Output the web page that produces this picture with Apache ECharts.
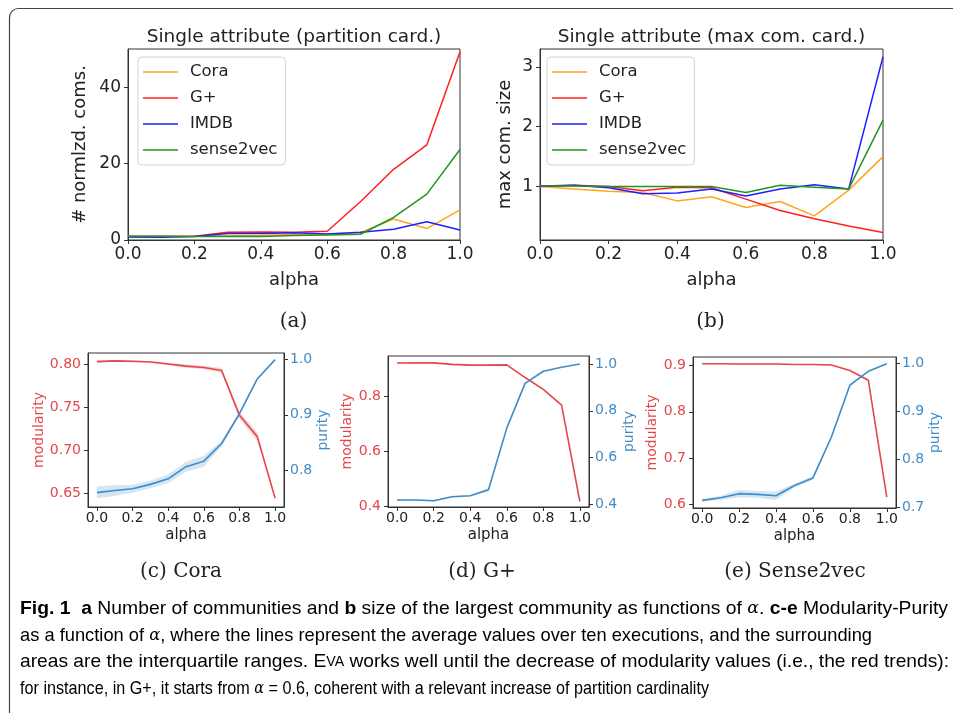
<!DOCTYPE html>
<html><head><meta charset="utf-8">
<script src="https://cdn.jsdelivr.net/npm/echarts@6/dist/echarts.min.js"></script>
<style>html,body{margin:0;padding:0;background:#fff}#c{width:953px;height:713px}</style>
</head><body><div id="c"></div>
<script>
// ---------- DATA ----------
const alpha = [0, 0.1, 0.2, 0.3, 0.4, 0.5, 0.6, 0.7, 0.8, 0.9, 1.0];
const xTicks = [0, 0.2, 0.4, 0.6, 0.8, 1.0];
const datasets = ['Cora', 'G+', 'IMDB', 'sense2vec'];

// (a) normalized number of communities
const partCora  = [1.0, 1.0, 1.0, 1.1, 1.2, 1.5, 1.6, 1.9, 5.5, 3.0, 7.9];
const partGplus = [0.9, 0.9, 1.0, 2.0, 2.1, 2.0, 2.3, 10.0, 18.5, 24.9, 49.3];
const partImdb  = [0.8, 0.7, 0.9, 1.7, 1.7, 1.9, 1.6, 2.0, 2.8, 4.8, 2.6];
const partSense = [1.0, 1.0, 0.9, 0.9, 0.9, 1.2, 1.3, 1.5, 5.9, 12.0, 23.7];
const aTicks = [0, 20, 40];

// (b) max community size
const maxCora  = [1.0, 0.96, 0.92, 0.90, 0.76, 0.83, 0.65, 0.75, 0.51, 0.94, 1.50];
const maxGplus = [1.0, 1.02, 1.0, 0.93, 0.99, 0.98, 0.79, 0.60, 0.46, 0.34, 0.23];
const maxImdb  = [1.01, 1.02, 0.98, 0.88, 0.89, 0.96, 0.84, 0.96, 1.03, 0.96, 3.17];
const maxSense = [1.01, 1.01, 1.0, 1.0, 1.0, 1.0, 0.90, 1.02, 0.99, 0.96, 2.11];
const bTicks = [1, 2, 3];

// (c) Cora modularity / purity (mean + interquartile range)
const cMod     = [0.8036, 0.8045, 0.8040, 0.8032, 0.8008, 0.7984, 0.7968, 0.7933, 0.7408, 0.7159, 0.6440];
const cModLow  = [0.8026, 0.8035, 0.8030, 0.8022, 0.7993, 0.7964, 0.7948, 0.7903, 0.7368, 0.7109, 0.6420];
const cModHigh = [0.8046, 0.8055, 0.8050, 0.8042, 0.8023, 0.8004, 0.7988, 0.7963, 0.7448, 0.7209, 0.6460];
const cPur     = [0.759, 0.763, 0.766, 0.774, 0.784, 0.806, 0.816, 0.848, 0.902, 0.965, 1.0];
const cPurLow  = [0.749, 0.753, 0.759, 0.767, 0.776, 0.797, 0.806, 0.843, 0.899, 0.963, 0.999];
const cPurHigh = [0.770, 0.773, 0.773, 0.781, 0.792, 0.815, 0.826, 0.853, 0.905, 0.967, 1.0];
const cModTicks = [0.65, 0.70, 0.75, 0.80];
const cPurTicks = [0.8, 0.9, 1.0];

// (d) G+
const dMod     = [0.9195, 0.920, 0.920, 0.9146, 0.912, 0.912, 0.913, 0.867, 0.824, 0.767, 0.418];
const dModLow  = [0.9185, 0.919, 0.919, 0.9136, 0.911, 0.911, 0.912, 0.865, 0.822, 0.765, 0.415];
const dModHigh = [0.9205, 0.921, 0.921, 0.9156, 0.913, 0.913, 0.914, 0.869, 0.826, 0.769, 0.421];
const dPur     = [0.419, 0.419, 0.416, 0.433, 0.437, 0.463, 0.726, 0.917, 0.969, 0.986, 1.0];
const dPurLow  = [0.416, 0.416, 0.413, 0.430, 0.434, 0.455, 0.722, 0.914, 0.967, 0.985, 0.999];
const dPurHigh = [0.422, 0.422, 0.419, 0.436, 0.440, 0.471, 0.730, 0.920, 0.971, 0.987, 1.0];
const dModTicks = [0.4, 0.6, 0.8];
const dPurTicks = [0.4, 0.6, 0.8, 1.0];

// (e) Sense2vec
const eMod     = [0.9036, 0.9035, 0.9030, 0.9030, 0.9030, 0.9020, 0.9020, 0.9007, 0.889, 0.868, 0.6165];
const eModLow  = [0.9026, 0.9025, 0.9020, 0.9020, 0.9020, 0.9010, 0.9010, 0.8997, 0.888, 0.866, 0.6135];
const eModHigh = [0.9046, 0.9045, 0.9040, 0.9040, 0.9040, 0.9030, 0.9030, 0.9017, 0.890, 0.870, 0.6195];
const ePur     = [0.714, 0.7195, 0.728, 0.7265, 0.7237, 0.745, 0.761, 0.8465, 0.955, 0.984, 1.0];
const ePurLow  = [0.711, 0.7155, 0.720, 0.7195, 0.7147, 0.741, 0.757, 0.8435, 0.952, 0.983, 0.999];
const ePurHigh = [0.717, 0.7235, 0.736, 0.7335, 0.7327, 0.749, 0.765, 0.8495, 0.958, 0.985, 1.0];
const eModTicks = [0.6, 0.7, 0.8, 0.9];
const ePurTicks = [0.7, 0.8, 0.9, 1.0];

// ---------- STYLE ----------
const SANS = 'DejaVu Sans';
const TXT = '#222';
const AX = '#333';
const cOrange = '#ffa522', cRed = '#ff2020', cBlue = '#2020ff', cGreen = '#1f961f';
const modColor = '#e3474c', purColor = '#3f8cc8';

const chart = echarts.init(document.getElementById('c'), null, {renderer: 'canvas'});

function grid(l, t, w, h) {
  return {left: l, top: t, width: w, height: h, show: true, borderColor: AX, borderWidth: 1,
    containLabel: false, outerBoundsMode: 'none'};
}
function xAxis(gi, min, max, fs, margin, nameGap) {
  return {type: 'value', gridIndex: gi, min: min, max: max, name: 'alpha', nameLocation: 'middle', nameGap: nameGap,
    nameTextStyle: {fontFamily: SANS, fontSize: fs + 1, color: TXT},
    axisLine: {show: true, onZero: false, lineStyle: {color: AX}},
    axisTick: {show: true, length: 4, customValues: xTicks, lineStyle: {color: AX}},
    axisLabel: {customValues: xTicks, formatter: v => v.toFixed(1), fontFamily: SANS, fontSize: fs, color: TXT, margin: margin},
    splitLine: {show: false}};
}
function yAxis(gi, min, max, ticks, dec, opt) {
  return {type: 'value', gridIndex: gi, min: min, max: max, position: opt.pos || 'left',
    name: opt.name, nameLocation: 'middle', nameGap: opt.gap, nameRotate: 90,
    nameTextStyle: {fontFamily: SANS, fontSize: opt.nfs, color: opt.ncolor || TXT},
    axisLine: {show: true, onZero: false, lineStyle: {color: AX}},
    axisTick: {show: true, length: 4, customValues: ticks, lineStyle: {color: AX}},
    axisLabel: {customValues: ticks, formatter: v => dec < 0 ? String(Math.round(v)) : v.toFixed(dec),
      fontFamily: SANS, fontSize: opt.fs, color: opt.lcolor || TXT, margin: opt.margin},
    splitLine: {show: false}};
}
function line(name, xi, yi, vals, color, width) {
  return {type: 'line', name: name, xAxisIndex: xi, yAxisIndex: yi, data: alpha.map((a, i) => [a, vals[i]]),
    symbol: 'none', showSymbol: false, lineStyle: {color: color, width: width}, itemStyle: {color: color},
    z: 3, silent: true, animation: false};
}
// interquartile band drawn as one polygon through the axes' own scales
function band(xi, yi, low, high, color) {
  return {type: 'custom', xAxisIndex: xi, yAxisIndex: yi, silent: true, z: 1, animation: false, clip: true,
    data: alpha.map((a, i) => [a, low[i], high[i]]),
    encode: {x: 0, y: [1, 2]},
    renderItem: function (params, api) {
      if (params.dataIndex !== 0) return null;
      const pts = [];
      for (let i = 0; i < alpha.length; i++) pts.push(api.coord([alpha[i], high[i]]));
      for (let i = alpha.length - 1; i >= 0; i--) pts.push(api.coord([alpha[i], low[i]]));
      return {type: 'polygon', shape: {points: pts}, style: {fill: color, opacity: 0.22}};
    }};
}

// ---------- caption text fitting ----------
const mctx = document.createElement('canvas').getContext('2d');
const CAPF = "'Liberation Sans', Arial, sans-serif";
const capRich = {
  n: {fontFamily: CAPF, fontSize: 19, color: '#1e1e1e'},
  b: {fontFamily: CAPF, fontSize: 19, fontWeight: 'bold', color: '#1e1e1e'},
  i: {fontFamily: "'DejaVu Serif', serif", fontSize: 17, fontStyle: 'italic', color: '#1e1e1e'},
  sc: {fontFamily: CAPF, fontSize: 14, color: '#1e1e1e'}
};
function segWidth(segs) {
  let w = 0;
  segs.forEach(s => {
    const st = capRich[s[1]];
    mctx.font = (st.fontStyle || 'normal') + ' ' + (st.fontWeight || 'normal') + ' ' + st.fontSize + 'px ' + st.fontFamily;
    w += mctx.measureText(s[0]).width;
  });
  return w;
}
function capLine(segs, x, y, target) {
  const w = segWidth(segs);
  return {type: 'text', x: x, y: y, scaleX: target / w, silent: true,
    style: {text: segs.map(s => '{' + s[1] + '|' + s[0] + '}').join(''), rich: capRich,
      textAlign: 'left', textVerticalAlign: 'middle', verticalAlign: 'middle'}};
}
const capLines = [
  [[['Fig. 1', 'b'], ['  ', 'n'], ['a', 'b'], [' Number of communities and ', 'n'], ['b', 'b'],
    [' size of the largest community as functions of ', 'n'], ['α', 'i'], ['. ', 'n'], ['c-e', 'b'], [' Modularity-Purity', 'n']], 609, 928],
  [[['as a function of ', 'n'], ['α', 'i'], [', where the lines represent the average values over ten executions, and the surrounding', 'n']], 636, 852],
  [[['areas are the interquartile ranges. E', 'n'], ['VA', 'sc'], [' works well until the decrease of modularity values (i.e., the red trends):', 'n']], 662, 929],
  [[['for instance, in G+, it starts from ', 'n'], ['α', 'i'], [' = 0.6, coherent with a relevant increase of partition cardinality', 'n']], 689, 689]
];

function txt(t, x, y, fs, fam) {
  return {type: 'text', x: x, y: y, silent: true,
    style: {text: t, fontFamily: fam, fontSize: fs, fill: TXT, textAlign: 'center',
      textVerticalAlign: 'middle', verticalAlign: 'middle', align: 'center'}};
}

const legendBase = {
  orient: 'vertical', data: datasets, padding: [6, 8, 6, 5], itemGap: 8, itemWidth: 35, itemHeight: 1.6,
  icon: 'rect',
  backgroundColor: '#fff', borderColor: '#d4d4d4', borderWidth: 1, borderRadius: 4, selectedMode: false,
  textStyle: {fontFamily: SANS, fontSize: 16.5, color: TXT, padding: [0, 0, 0, 7], lineHeight: 18, height: 18}
};

const option = {
  animation: false,
  backgroundColor: '#fff',
  grid: [grid(128, 49, 332, 191), grid(540, 49, 343, 191),
         grid(88, 353, 196, 154), grid(388, 356, 201, 151), grid(693, 357, 203, 151)],
  xAxis: [xAxis(0, 0, 1, 17, 6, 31), xAxis(1, 0, 1, 17, 6, 31),
          xAxis(2, -0.05, 1.05, 14, 4, 21), xAxis(3, -0.05, 1.05, 14, 4, 21), xAxis(4, -0.05, 1.05, 14, 4, 21)],
  yAxis: [
    yAxis(0, 0, 50, aTicks, -1, {name: '# normlzd. coms.', gap: 39, nfs: 18, fs: 17, margin: 7}),
    yAxis(1, 0.106, 3.30, bTicks, -1, {name: 'max com. size', gap: 26, nfs: 18, fs: 17, margin: 7}),
    yAxis(2, 0.6336, 0.8137, cModTicks, 2, {name: 'modularity', gap: 39, nfs: 14, fs: 14, margin: 7, ncolor: modColor, lcolor: modColor}),
    yAxis(2, 0.733, 1.012, cPurTicks, 1, {pos: 'right', name: 'purity', gap: 30, nfs: 14, fs: 14, margin: 6, ncolor: purColor, lcolor: purColor}),
    yAxis(3, 0.398, 0.945, dModTicks, 1, {name: 'modularity', gap: 28, nfs: 14, fs: 14, margin: 7, ncolor: modColor, lcolor: modColor}),
    yAxis(3, 0.389, 1.034, dPurTicks, 1, {pos: 'right', name: 'purity', gap: 33, nfs: 14, fs: 14, margin: 6, ncolor: purColor, lcolor: purColor}),
    yAxis(4, 0.593, 0.918, eModTicks, 1, {name: 'modularity', gap: 28, nfs: 14, fs: 14, margin: 7, ncolor: modColor, lcolor: modColor}),
    yAxis(4, 0.698, 1.014, ePurTicks, 1, {pos: 'right', name: 'purity', gap: 31, nfs: 14, fs: 14, margin: 6, ncolor: purColor, lcolor: purColor})
  ],
  legend: [Object.assign({left: 138, top: 57}, legendBase), Object.assign({left: 547, top: 57}, legendBase)],
  series: [
    line('Cora', 0, 0, partCora, cOrange, 1.5),
    line('G+', 0, 0, partGplus, cRed, 1.5),
    line('IMDB', 0, 0, partImdb, cBlue, 1.5),
    line('sense2vec', 0, 0, partSense, cGreen, 1.5),
    line('Cora', 1, 1, maxCora, cOrange, 1.5),
    line('G+', 1, 1, maxGplus, cRed, 1.5),
    line('IMDB', 1, 1, maxImdb, cBlue, 1.5),
    line('sense2vec', 1, 1, maxSense, cGreen, 1.5),
    band(2, 2, cModLow, cModHigh, modColor),
    band(2, 3, cPurLow, cPurHigh, purColor),
    line('Cora modularity', 2, 2, cMod, modColor, 1.6),
    line('Cora purity', 2, 3, cPur, purColor, 1.6),
    band(3, 4, dModLow, dModHigh, modColor),
    band(3, 5, dPurLow, dPurHigh, purColor),
    line('G+ modularity', 3, 4, dMod, modColor, 1.6),
    line('G+ purity', 3, 5, dPur, purColor, 1.6),
    band(4, 6, eModLow, eModHigh, modColor),
    band(4, 7, ePurLow, ePurHigh, purColor),
    line('Sense2vec modularity', 4, 6, eMod, modColor, 1.6),
    line('Sense2vec purity', 4, 7, ePur, purColor, 1.6)
  ],
  graphic: [
    {type: 'rect', silent: true, shape: {x: 9.5, y: 8.5, width: 990, height: 760, r: 9},
      style: {fill: 'none', stroke: '#444', lineWidth: 1.2}},
    txt('Single attribute (partition card.)', 294, 37, 18.5, SANS),
    txt('Single attribute (max com. card.)', 711.5, 37, 18.5, SANS),
    txt('(a)', 293.5, 322, 20, "'DejaVu Serif', serif"),
    txt('(b)', 710.5, 322, 20, "'DejaVu Serif', serif"),
    txt('(c) Cora', 181, 572, 20, "'DejaVu Serif', serif"),
    txt('(d) G+', 482, 572, 20, "'DejaVu Serif', serif"),
    txt('(e) Sense2vec', 795, 572, 20, "'DejaVu Serif', serif"),
    ...capLines.map(c => capLine(c[0], 20, c[1], c[2]))
  ]
};
chart.setOption(option);
</script>
</body></html>
